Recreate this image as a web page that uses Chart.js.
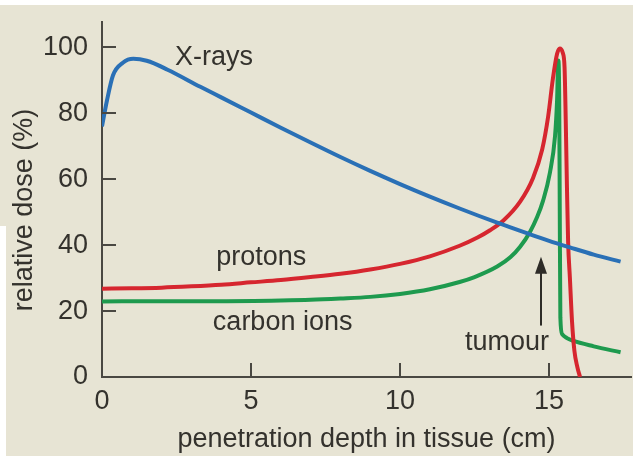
<!DOCTYPE html>
<html>
<head>
<meta charset="utf-8">
<script src="https://cdn.jsdelivr.net/npm/chart.js@4.4.0/dist/chart.umd.min.js"></script>
<style>
  html, body { margin: 0; padding: 0; background: #ffffff; }
  #wrap { width: 633px; height: 456px; position: relative; }
</style>
</head>
<body>
<div id="wrap"><canvas id="myChart" width="633" height="456"></canvas></div>
<script>
// depth (cm) and relative dose (%)
var xrayDepth = [0, 0.17, 0.37, 0.7, 1.05, 1.5, 2.2, 3.3, 4, 5, 6, 7, 8, 9, 10, 11, 12, 13.26, 14.26, 15, 15.7, 16.5, 17.4];
var xrayDose  = [76, 84, 91.5, 95.3, 96.5, 95.9, 93.2, 88, 84.8, 80.2, 75.6, 71.1, 66.7, 62.5, 58.5, 54.7, 51.1, 46.8, 43.6, 41.3, 39.3, 37.1, 35];

var protonDepth = [0, 1, 2, 3, 4, 5, 6, 7, 8, 9, 10, 11, 12, 12.6, 13.02, 13.46, 14.03, 14.46, 14.77, 14.97, 15.13, 15.27, 15.36, 15.46, 15.52, 15.56, 15.6, 15.64, 15.7, 15.77, 15.85, 15.95, 16.04];
var protonDose  = [26.8, 26.9, 27.1, 27.5, 28, 28.7, 29.4, 30.3, 31.3, 32.6, 34.3, 36.6, 39.8, 42.3, 44.5, 47.4, 53.2, 60.3, 69, 79, 90.5, 98, 99.6, 98.3, 94, 78, 58, 41, 30, 17, 8, 3, 0];

var carbonDepth = [0, 2, 4, 6, 7, 8, 9, 10, 11, 12, 12.5, 13.26, 13.7, 14.03, 14.36, 14.6, 14.8, 15.03, 15.2, 15.27, 15.31, 15.34, 15.36, 15.38, 15.44, 15.6, 15.8, 16.5, 17.4];
var carbonDose  = [22.9, 23, 23, 23.2, 23.4, 23.8, 24.3, 25.2, 26.6, 28.8, 30.3, 33.5, 36.3, 39.5, 44, 48.5, 53.5, 62, 73, 84, 96, 86, 50, 18, 13, 11.8, 11, 9.3, 7.5];

var xTicks = [0, 5, 10, 15];
var yTicks = [0, 20, 40, 60, 80, 100];

var seriesNames = ['X-rays', 'protons', 'carbon ions'];
var tumourLabel = 'tumour';
var xTitle = 'penetration depth in tissue (cm)';
var yTitle = 'relative dose (%)';

var FONT = "'Liberation Sans', Arial, sans-serif";
var INK = '#34322d';

function pairs(xs, ys) {
    var out = [];
    for (var i = 0; i < xs.length; i++) out.push({x: xs[i], y: ys[i]});
    return out;
}

var decor = {
    id: 'decor',
    beforeDraw: function(chart) {
        var c = chart.ctx;
        c.save();
        c.fillStyle = '#e7e4d4';
        c.fillRect(0, 0, chart.width, chart.height);
        c.fillStyle = '#ffffff';
        c.fillRect(0, 0, chart.width, 5);
        c.fillRect(0, 226, 6, chart.height - 226);
        c.restore();
    },
    afterDraw: function(chart) {
        var c = chart.ctx;
        var xs = chart.scales.x, ys = chart.scales.y;
        var a = chart.chartArea;
        c.save();
        // inward tick marks
        c.strokeStyle = '#4a4842';
        c.lineWidth = 2;
        c.beginPath();
        yTicks.forEach(function(v) {
            if (v === 0) return;
            var py = Math.round(ys.getPixelForValue(v));
            c.moveTo(a.left, py);
            c.lineTo(a.left + 14, py);
        });
        xTicks.forEach(function(v) {
            if (v === 0) return;
            var px = Math.round(xs.getPixelForValue(v));
            c.moveTo(px, a.bottom);
            c.lineTo(px, a.bottom - 14);
        });
        c.stroke();

        // labels on the curves
        c.fillStyle = INK;
        c.font = '27px ' + FONT;
        c.textBaseline = 'middle';
        c.textAlign = 'left';
        c.fillText(seriesNames[0], xs.getPixelForValue(2.45), ys.getPixelForValue(97));
        c.fillText(seriesNames[1], xs.getPixelForValue(3.83), ys.getPixelForValue(36.2));
        c.fillText(seriesNames[2], xs.getPixelForValue(3.72), ys.getPixelForValue(16.5));
        c.fillText(tumourLabel, xs.getPixelForValue(12.18), ys.getPixelForValue(10.6));

        // tumour arrow
        var ax = xs.getPixelForValue(14.73);
        var y0 = ys.getPixelForValue(15.6);
        var y1 = ys.getPixelForValue(36.5);
        c.strokeStyle = '#2e2c28';
        c.lineWidth = 2;
        c.beginPath();
        c.moveTo(ax, y0);
        c.lineTo(ax, y1 + 12);
        c.stroke();
        c.fillStyle = '#2e2c28';
        c.beginPath();
        c.moveTo(ax, y1);
        c.lineTo(ax - 6, y1 + 17);
        c.lineTo(ax + 6, y1 + 17);
        c.closePath();
        c.fill();

        // y axis title
        c.fillStyle = INK;
        c.font = '27px ' + FONT;
        c.translate(25, 210);
        c.rotate(-Math.PI / 2);
        c.textAlign = 'center';
        c.textBaseline = 'middle';
        c.fillText(yTitle, 0, 0);
        c.restore();
    }
};

var config = {
    type: 'line',
    data: {
        datasets: [{
            label: seriesNames[0],
            data: pairs(xrayDepth, xrayDose),
            borderColor: '#2a70b6',
            borderWidth: 4,
            pointRadius: 0,
            cubicInterpolationMode: 'monotone',
            order: 0
        },
        {
            label: seriesNames[1],
            data: pairs(protonDepth, protonDose),
            borderColor: '#d6262f',
            borderWidth: 4,
            pointRadius: 0,
            cubicInterpolationMode: 'monotone',
            order: 1
        },
        {
            label: seriesNames[2],
            data: pairs(carbonDepth, carbonDose),
            borderColor: '#1e9a4e',
            borderWidth: 4,
            pointRadius: 0,
            cubicInterpolationMode: 'monotone',
            order: 2
        }]
    },
    options: {
        responsive: false,
        animation: false,
        layout: {
            padding: {left: 0, right: 2, top: 11, bottom: 0}
        },
        plugins: {
            legend: {display: false},
            tooltip: {enabled: false}
        },
        scales: {
            x: {
                type: 'linear',
                min: 0,
                max: 17.75,
                grid: {display: false},
                border: {display: true, color: '#4a4842', width: 2},
                afterBuildTicks: function(scale) {
                    scale.ticks = xTicks.map(function(v) { return {value: v}; });
                },
                afterFit: function(scale) { scale.height = 79; },
                ticks: {
                    color: INK,
                    padding: 0,
                    font: {family: FONT, size: 27}
                },
                title: {
                    display: true,
                    text: xTitle,
                    color: INK,
                    padding: {top: 6, bottom: 0},
                    font: {family: FONT, size: 27}
                }
            },
            y: {
                type: 'linear',
                min: 0,
                max: 107.6,
                grid: {display: false},
                border: {display: true, color: '#4a4842', width: 2},
                afterBuildTicks: function(scale) {
                    scale.ticks = yTicks.map(function(v) { return {value: v}; });
                },
                afterFit: function(scale) { scale.width = 102; },
                ticks: {
                    color: INK,
                    padding: 6,
                    font: {family: FONT, size: 27}
                }
            }
        }
    },
    plugins: [decor]
};

const ctx = document.getElementById('myChart');
const myChart = new Chart(ctx, config);
</script>
</body>
</html>
